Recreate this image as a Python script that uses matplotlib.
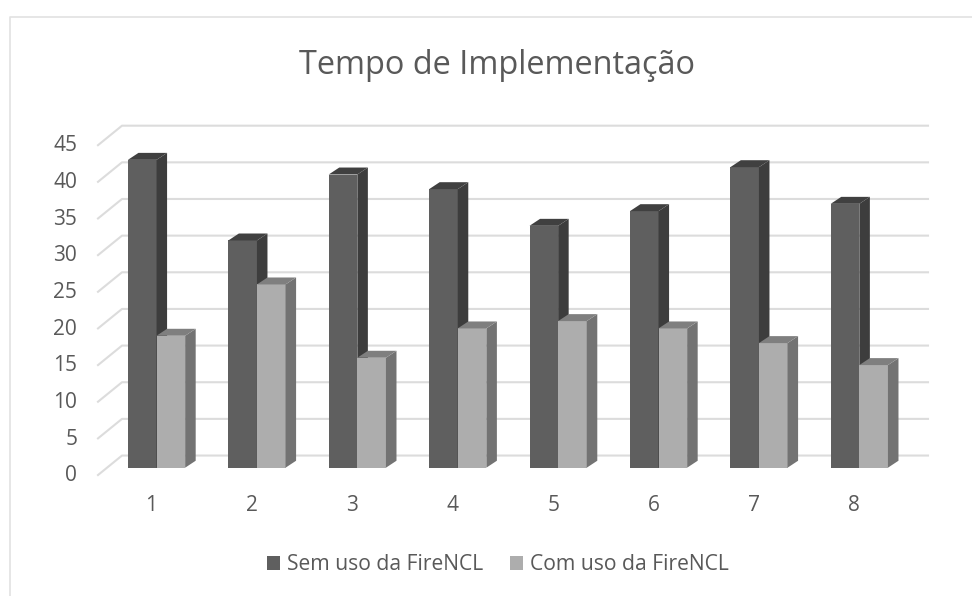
import matplotlib
matplotlib.use('Agg')
import matplotlib.pyplot as plt
from matplotlib.patches import Patch, Polygon, Rectangle
from matplotlib.transforms import ScaledTranslation

plt.rcParams['font.family'] = ['Open Sans', 'DejaVu Sans']

# ── Data ──────────────────────────────────────────────────────────────────────
categories = [1, 2, 3, 4, 5, 6, 7, 8]
sem_uso = [42, 31, 40, 38, 33, 35, 41, 36]
com_uso = [18, 25, 15, 19, 20, 19, 17, 14]
y_ticks = [0, 5, 10, 15, 20, 25, 30, 35, 40, 45]

W, H = 972, 596
TEXT = '#595959'
GRID = '#dcdcdc'

# fake 3D: sizes in data units (1 x unit = 100.4 px, 1 y unit = 7.33 px)
BAR_W = 0.285
DX, DY = 0.105, 0.95
WALL_DX, WALL_DY = 0.239, 1.66
FRONT_DY = -1.0

fig = plt.figure(figsize=(W / 100, H / 100), dpi=100, facecolor='white')
ax = fig.add_axes([98 / W, 1 - 467.7 / H, (928 - 98) / W, 344.7 / H])
ax.set_xlim(0.417, 8.684)
ax.set_ylim(0, 344.7 / 7.33)
ax.patch.set_visible(False)
for s in ax.spines.values():
    s.set_visible(False)


def bar3d(x, v, front, side, top):
    ax.add_patch(Rectangle((x, 0), BAR_W, v, fc=front, ec='none', zorder=3))
    ax.add_patch(Polygon([(x + BAR_W, 0), (x + BAR_W + DX, DY),
                          (x + BAR_W + DX, v + DY), (x + BAR_W, v)],
                         fc=side, ec='none', zorder=3))
    ax.add_patch(Polygon([(x, v), (x + BAR_W, v),
                          (x + BAR_W + DX, v + DY), (x + DX, v + DY)],
                         fc=top, ec='none', zorder=3))


# gridlines: side wall then back wall
x0, x1 = ax.get_xlim()
for v in y_ticks:
    ax.plot([x0, x0 + WALL_DX, x1], [v + FRONT_DY, v + WALL_DY, v + WALL_DY],
            color=GRID, lw=1.5, clip_on=False, zorder=1)

for c, a, b in zip(categories, sem_uso, com_uso):
    bar3d(c - BAR_W, a, '#5f5f5f', '#3d3d3d', '#404040')
    bar3d(c, b, '#adadad', '#737373', '#7f7f7f')

# ticks
ax.set_xticks(categories)
ax.set_yticks(y_ticks)
ax.tick_params(axis='both', length=0, labelsize=15, labelcolor=TEXT)
ax.tick_params(axis='y', pad=15)
ax.tick_params(axis='x', pad=20)
for lab in ax.get_yticklabels():
    lab.set_transform(lab.get_transform() + ScaledTranslation(0, -5.5 / 100, fig.dpi_scale_trans))
for lab in ax.get_xticklabels():
    lab.set_transform(lab.get_transform() + ScaledTranslation(-5 / 100, 0, fig.dpi_scale_trans))

fig.text(497 / W, 1 - 65 / H, 'Tempo de Implementação', fontsize=23.4, color=TEXT,
         ha='center', va='center')

handles = [Patch(fc='#5f5f5f', label='Sem uso da FireNCL'),
           Patch(fc='#adadad', label='Com uso da FireNCL')]
fig.legend(handles=handles, loc='center', bbox_to_anchor=(498 / W, 1 - 565 / H), ncol=2,
           frameon=False, fontsize=15.2, labelcolor=TEXT, handlelength=0.62, handleheight=0.62,
           handletextpad=0.33, columnspacing=1.3, borderpad=0)

# chart frame left over from the screenshot
fig.add_artist(plt.Line2D([10 / W, 10 / W, 1], [0, 1 - 16.5 / H, 1 - 16.5 / H],
                          color='#e2e2e2', lw=1.2))

fig.savefig('out.png', dpi=100)
